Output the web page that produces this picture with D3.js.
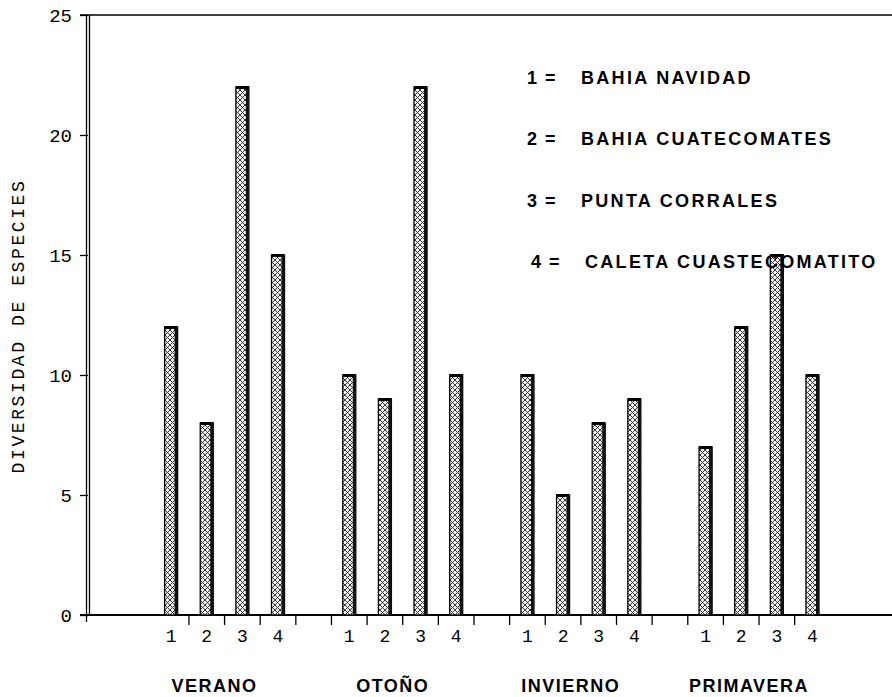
<!DOCTYPE html>
<html>
<head>
<meta charset="utf-8">
<script src="https://cdn.jsdelivr.net/npm/d3@7"></script>
<style>
  html, body { margin: 0; padding: 0; background: #fff; }
  svg { display: block; }
</style>
</head>
<body>
<svg id="chart" width="892" height="697"></svg>
<script>
// ---- data ----
const seasons = ["VERANO", "OTOÑO", "INVIERNO", "PRIMAVERA"];
const sites = ["1", "2", "3", "4"];
const siteNames = ["BAHIA NAVIDAD", "BAHIA CUATECOMATES", "PUNTA CORRALES", "CALETA CUASTECOMATITO"];
const verano = [12, 8, 22, 15];
const otono = [10, 9, 22, 10];
const invierno = [10, 5, 8, 9];
const primavera = [7, 12, 15, 10];
const yTicks = [0, 5, 10, 15, 20, 25];
const yLabel = "DIVERSIDAD DE ESPECIES";

const seriesValues = [verano, otono, invierno, primavera];

// ---- layout ----
const svg = d3.select("#chart");
const axisX = 88, plotTop = 15, plotBottom = 615, rightEdge = 892;
const slotsPerSeason = sites.length + 1;
const nSlots = seasons.length * slotsPerSeason - 1;

const x = d3.scaleBand().domain(d3.range(nSlots)).range([153.3, 830.3]).paddingInner(0).paddingOuter(0);
const y = d3.scaleLinear().domain([0, 25]).range([plotBottom, plotTop]);

const items = [];
seasons.forEach((s, si) => sites.forEach((k, ki) => {
  items.push({ season: s, site: k, slot: si * slotsPerSeason + ki, value: seriesValues[si][ki] });
}));

// pattern
const defs = svg.append("defs");
const pat = defs.append("pattern").attr("id", "hatch").attr("patternUnits", "userSpaceOnUse")
  .attr("width", 5).attr("height", 5);
pat.append("rect").attr("width", 5).attr("height", 5).attr("fill", "#f2f2f2");
pat.append("path").attr("d", "M0,0 L5,5 M5,0 L0,5").attr("stroke", "#222").attr("stroke-width", 0.9).attr("fill", "none");

const mono = "'Courier New', Courier, 'Liberation Mono', monospace";
const sans = "Arial, Helvetica, 'Liberation Sans', sans-serif";

// top frame line
svg.append("line").attr("x1", axisX - 8).attr("x2", rightEdge).attr("y1", y(25)).attr("y2", y(25))
  .attr("stroke", "#000").attr("stroke-width", 1.6);

// y axis (double line)
svg.append("line").attr("x1", axisX - 1.5).attr("x2", axisX - 1.5).attr("y1", y(25)).attr("y2", plotBottom + 7)
  .attr("stroke", "#000").attr("stroke-width", 1.3);
svg.append("line").attr("x1", axisX + 1.5).attr("x2", axisX + 1.5).attr("y1", y(25)).attr("y2", plotBottom)
  .attr("stroke", "#000").attr("stroke-width", 1.3);

const yAxis = d3.axisLeft(y).tickValues(yTicks).tickSize(8).tickPadding(8).tickFormat(d3.format("d"));
const gy = svg.append("g").attr("transform", `translate(${axisX},0)`).call(yAxis);
gy.select(".domain").remove();
gy.selectAll(".tick line").attr("stroke", "#000").attr("stroke-width", 1.3);
gy.selectAll(".tick text").attr("font-family", mono).attr("font-size", 19).attr("fill", "#000");

// y label
svg.append("text").attr("transform", `translate(24,${(y(0) + y(25)) / 2 + 11}) rotate(-90)`)
  .attr("text-anchor", "middle").attr("font-family", mono).attr("font-size", 18)
  .attr("letter-spacing", 2.6).text(yLabel);

// x axis line
svg.append("line").attr("x1", axisX - 8).attr("x2", rightEdge).attr("y1", plotBottom).attr("y2", plotBottom)
  .attr("stroke", "#000").attr("stroke-width", 2);

// x ticks at slot boundaries
const tickSlots = d3.range(1, nSlots);
svg.append("g").selectAll("line").data(tickSlots).join("line")
  .attr("x1", d => x(d)).attr("x2", d => x(d))
  .attr("y1", plotBottom).attr("y2", plotBottom + 10)
  .attr("stroke", "#000").attr("stroke-width", 1.3);

// bars
const bw = 13;
const bars = svg.append("g").selectAll("g").data(items).join("g");
bars.append("rect")
  .attr("x", d => x(d.slot) + x.bandwidth() / 2 - bw / 2)
  .attr("y", d => y(d.value))
  .attr("width", bw)
  .attr("height", d => y(0) - y(d.value))
  .attr("fill", "url(#hatch)").attr("stroke", "#000").attr("stroke-width", 1.3);
bars.append("rect")
  .attr("x", d => x(d.slot) + x.bandwidth() / 2 + bw / 2 - 3)
  .attr("y", d => y(d.value))
  .attr("width", 3)
  .attr("height", d => y(0) - y(d.value))
  .attr("fill", "#111");
bars.append("rect")
  .attr("x", d => x(d.slot) + x.bandwidth() / 2 - bw / 2)
  .attr("y", d => y(d.value) - 1)
  .attr("width", bw)
  .attr("height", 3)
  .attr("fill", "#000");

// site numbers under bars
svg.append("g").selectAll("text").data(items).join("text")
  .attr("x", d => x(d.slot) + x.bandwidth() / 2)
  .attr("y", plotBottom + 27)
  .attr("text-anchor", "middle").attr("font-family", mono).attr("font-size", 18)
  .text(d => d.site);

// season labels
svg.append("g").selectAll("text").data(seasons).join("text")
  .attr("x", (d, i) => (x(i * slotsPerSeason) + x(i * slotsPerSeason + sites.length - 1) + x.bandwidth()) / 2 - 10)
  .attr("y", 692)
  .attr("text-anchor", "middle").attr("font-family", sans).attr("font-weight", "bold")
  .attr("font-size", 18).attr("letter-spacing", 1.5)
  .text(d => d);

// legend
const leg = svg.append("g").selectAll("g").data(siteNames).join("g")
  .attr("transform", (d, i) => `translate(${i === 3 ? 531 : 527},${84 + i * 61.3})`);
leg.append("text").attr("font-family", sans).attr("font-weight", "bold").attr("font-size", 18)
  .text((d, i) => sites[i]);
leg.append("text").attr("x", 18).attr("font-family", sans).attr("font-weight", "bold").attr("font-size", 18)
  .text("=");
leg.append("text").attr("x", 54).attr("font-family", sans).attr("font-weight", "bold").attr("font-size", 18)
  .attr("letter-spacing", 2.3).text(d => d);
</script>
</body>
</html>
